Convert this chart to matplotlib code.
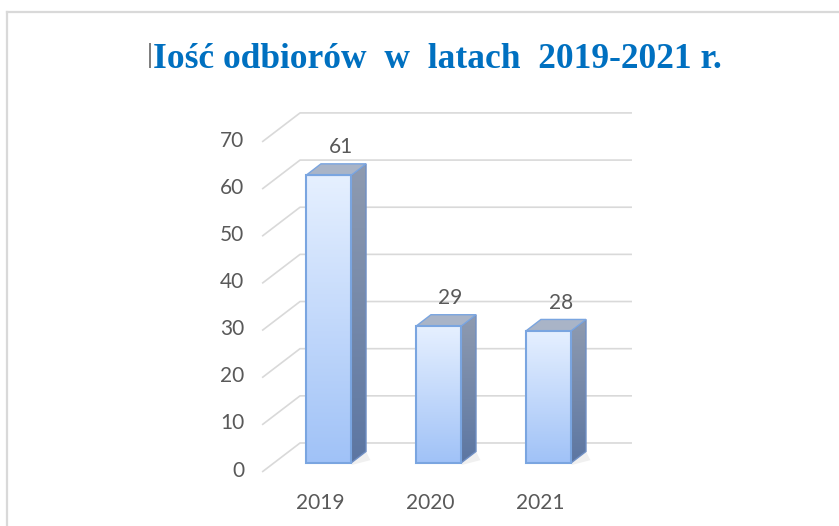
import numpy as np
import matplotlib
matplotlib.use("Agg")
import matplotlib.pyplot as plt
from matplotlib.patches import Polygon, Rectangle
from matplotlib.colors import LinearSegmentedColormap

# Données du graphique
years = ["2019", "2020", "2021"]
values = [61, 29, 28]
y_ticks = [0, 10, 20, 30, 40, 50, 60, 70]
title = "Iość odbiorów  w  latach  2019-2021 r."

# Géométrie de la perspective (unités des axes)
wall_dx, wall_dy = 0.345, 6.15     # profondeur des murs
bar_dx, bar_dy = 0.136, 2.44       # profondeur des barres
bar_w = 0.41
bar_base = -4.24
wall_left, wall_right = -0.259, 2.759

text_gray = "#595959"
grid_gray = "#d9d9d9"

fig = plt.figure(figsize=(8.39, 5.26), dpi=100)
fig.patch.set_facecolor("white")

# cadre du graphique
fig.add_artist(plt.Line2D([6.5 / 839, 6.5 / 839], [1 - 11.5 / 526, 0], color=grid_gray, lw=1.6))
fig.add_artist(plt.Line2D([6.5 / 839, 1], [1 - 11.5 / 526, 1 - 11.5 / 526], color=grid_gray, lw=1.6))

ax = fig.add_axes([250 / 839, 1 - 480 / 526, 400 / 839, 385 / 526])
ax.set_axis_off()

# Lignes de grille (mur du fond + mur latéral)
for v in y_ticks:
    ax.plot([wall_left - wall_dx, wall_left, wall_right], [v - wall_dy, v, v],
            color=grid_gray, lw=1.2, zorder=1, solid_capstyle="butt")
    ax.annotate(str(v), (wall_left - wall_dx, v - wall_dy), xytext=(-13, 1),
                textcoords="offset points", ha="right", va="center",
                fontsize=15, color=text_gray, family="Lato")

front_cmap = LinearSegmentedColormap.from_list("front", ["#a0c2f7", "#e6f0ff"])
side_cmap = LinearSegmentedColormap.from_list("side", ["#5c76a2", "#8f9bb0"])
grad = np.linspace(0, 1, 256).reshape(-1, 1)

for i, (yr, v) in enumerate(zip(years, values)):
    x0 = i - bar_w / 2
    x1 = i + bar_w / 2
    y0 = bar_base
    y1 = bar_base + v

    # ombre au sol
    shadow = Polygon([(x1, y0), (x1 + bar_dx, y0 + bar_dy), (x1 + bar_dx + 0.04, y0 + 0.6),
                      (x1 + 0.01, y0 - 0.4)], closed=True, facecolor="#f0f0f0",
                     edgecolor="none", zorder=2)
    ax.add_patch(shadow)

    # face latérale
    side = Polygon([(x1, y0), (x1 + bar_dx, y0 + bar_dy), (x1 + bar_dx, y1 + bar_dy), (x1, y1)],
                   closed=True, facecolor="none", edgecolor="#6f8fc4", lw=1.0, zorder=4)
    ax.add_patch(side)
    im = ax.imshow(grad, cmap=side_cmap, origin="lower", aspect="auto",
                   extent=[x1, x1 + bar_dx, y0, y1 + bar_dy], zorder=3)
    im.set_clip_path(side)

    # face supérieure
    top = Polygon([(x0, y1), (x0 + bar_dx, y1 + bar_dy), (x1 + bar_dx, y1 + bar_dy), (x1, y1)],
                  closed=True, facecolor="#a9b4c7", edgecolor="#7aa5e0", lw=1.0, zorder=4)
    ax.add_patch(top)

    # face avant
    ax.imshow(grad, cmap=front_cmap, origin="lower", aspect="auto",
              extent=[x0, x1, y0, y1], zorder=3)
    ax.add_patch(Rectangle((x0, y0), bar_w, v, facecolor="none",
                           edgecolor="#7aa5e0", lw=1.5, zorder=5))

    # étiquette de valeur
    ax.annotate(str(v), (i + 0.11, y1 + bar_dy), xytext=(0, 5), textcoords="offset points",
                ha="center", va="bottom", fontsize=15, color=text_gray, family="Lato")

    # étiquette de l'année
    ax.text(i - 0.075, -12.8, yr, ha="center", va="center", fontsize=15,
            color=text_gray, family="Lato")

ax.set_xlim(-0.714, 2.923)
ax.set_ylim(-7.85, 73.8)

# Titre
t = fig.text(437 / 839, 1 - 68 / 526, title, ha="center", va="baseline",
             fontsize=25.5, fontweight="bold", family="Liberation Serif", color="#0070c0")
fig.canvas.draw()
bb = t.get_window_extent()
fig.add_artist(Rectangle(((bb.x0 - 4) / 839, 1 - 68 / 526), 2.5 / 839, 25 / 526,
                         transform=fig.transFigure, facecolor="#808080", edgecolor="none"))

fig.savefig("out.png", dpi=100)
